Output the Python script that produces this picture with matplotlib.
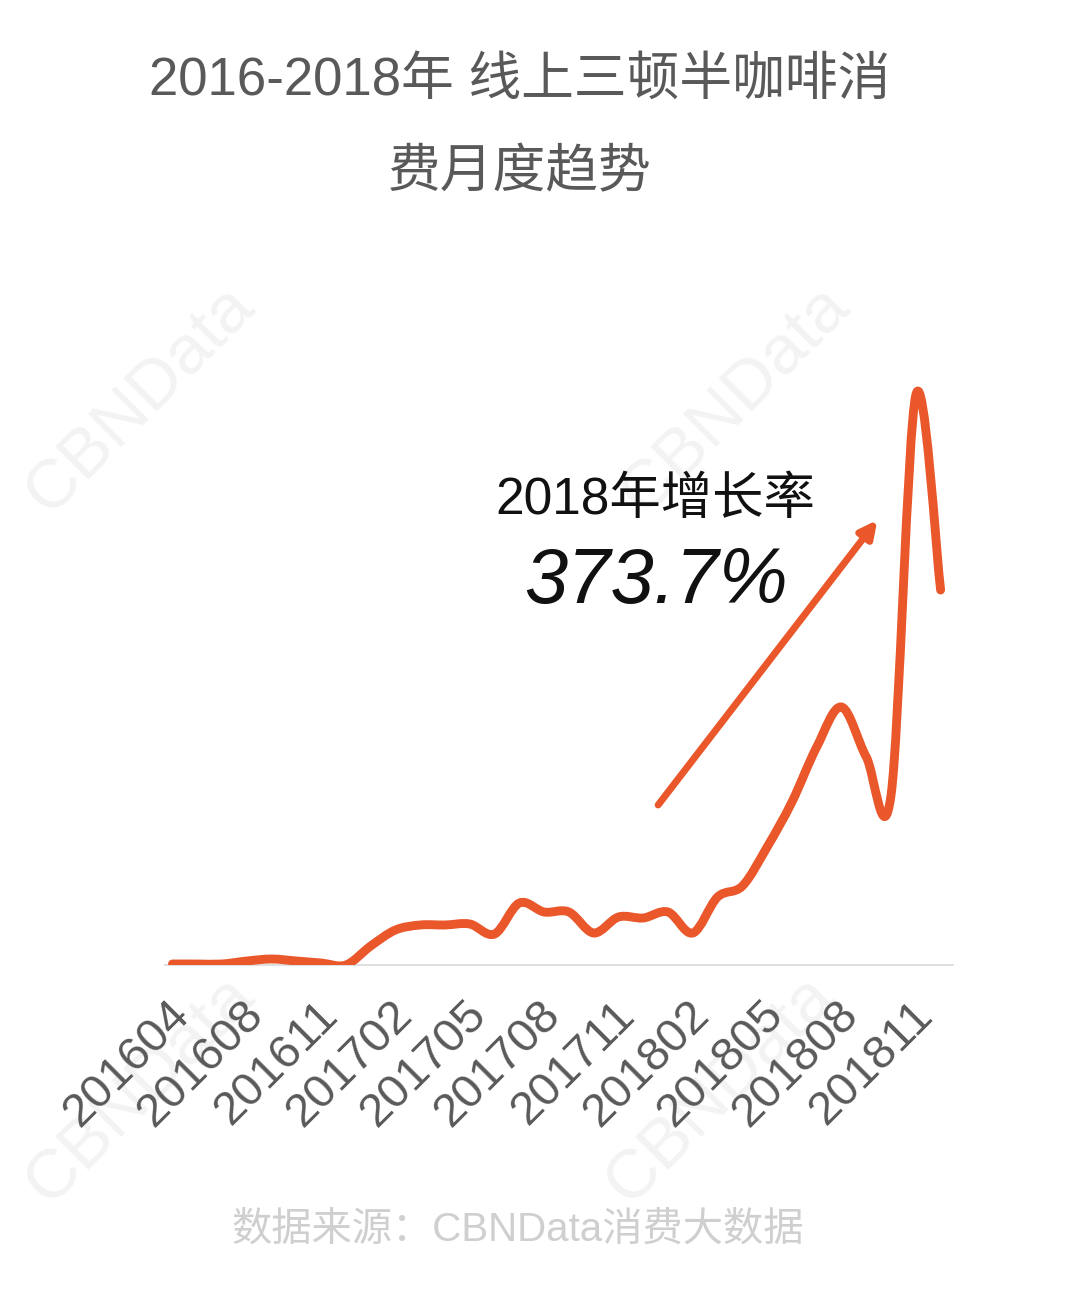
import numpy as np
import matplotlib.pyplot as plt
from matplotlib.path import Path
from matplotlib.patches import PathPatch
import matplotlib.transforms as mtransforms

plt.rcParams['font.family'] = ['Liberation Sans', 'Noto Sans CJK SC', 'DejaVu Sans']

# monthly consumption index, one month missing in the source
months = ['201604', '201606', '201607', '201608', '201609', '201610', '201611',
          '201612', '201701', '201702', '201703', '201704', '201705', '201706',
          '201707', '201708', '201709', '201710', '201711', '201712', '201801',
          '201802', '201803', '201804', '201805', '201806', '201807', '201808',
          '201809', '201810', '201811', '201812']
values = [1, 1, 1, 4, 6, 4, 2, 0, 19, 35, 40, 40, 41, 31, 62, 53,
          53, 32, 48, 47, 53, 32, 68, 79, 118, 163, 218, 258, 208, 170, 570, 375]
label_every = 3

line_color = '#E9572B'
text_gray = '#595959'

fig = plt.figure(figsize=(10.8, 13.04), dpi=100)

# background layer for the faint watermarks
bg = fig.add_axes([0, 0, 1, 1], zorder=-1)
bg.set_xlim(0, 1080)
bg.set_ylim(1304, 0)
bg.axis('off')
for wx, wy in [(140, 400), (735, 400), (140, 1090), (720, 1090)]:
    bg.text(wx, wy, 'CBNData', fontsize=50, rotation=45,
            color='#f3f3f3', ha='center', va='center')

ax = fig.add_axes([165 / 1080, 1 - 965 / 1304, (953 - 165) / 1080, 600 / 1304])
ax.patch.set_alpha(0)

# smooth line like the office chart: catmull-rom turned into bezier segments
x = np.arange(len(values), dtype=float)
y = np.array(values, dtype=float)
pts = np.column_stack([x, y])
verts = [pts[0]]
codes = [Path.MOVETO]
for i in range(len(pts) - 1):
    p0 = pts[i - 1] if i > 0 else pts[i]
    p1 = pts[i]
    p2 = pts[i + 1]
    p3 = pts[i + 2] if i + 2 < len(pts) else pts[i + 1]
    verts += [p1 + (p2 - p0) / 6, p2 - (p3 - p1) / 6, p2]
    codes += [Path.CURVE4] * 3
ax.add_patch(PathPatch(Path(verts, codes), facecolor='none', edgecolor=line_color,
                       lw=6.4, capstyle='round', joinstyle='round', zorder=3))

ax.set_xlim(-0.3, 31.5)
ax.set_ylim(0, 600)
for s in ['top', 'right', 'left']:
    ax.spines[s].set_visible(False)
ax.spines['bottom'].set_color('#d9d9d9')
ax.spines['bottom'].set_linewidth(1.2)
ax.set_yticks([])
ticks = list(range(0, len(months), label_every))
ax.set_xticks(ticks)
ax.set_xticklabels([months[i] for i in ticks], rotation=45, ha='right', va='center',
                   rotation_mode='anchor', fontsize=34, color=text_gray)
ax.tick_params(axis='x', length=0, pad=31)
offset = mtransforms.ScaledTranslation(10 / 100, 0, fig.dpi_scale_trans)
for lab in ax.get_xticklabels():
    lab.set_transform(lab.get_transform() + offset)

# growth arrow and note
ax.annotate('', xy=(28.45, 445), xytext=(19.6, 160),
            arrowprops=dict(arrowstyle='-|>,head_length=1.0,head_width=0.5',
                            color=line_color, lw=5, shrinkA=0, shrinkB=0))
ax.text(19.5, 465, '2018年增长率', fontsize=37, color='#111111', ha='center', va='center')
ax.text(19.5, 383, '373.7%', fontsize=56, style='italic', color='#111111',
        ha='center', va='center')

fig.text(520 / 1080, 1 - 81 / 1304, '2016-2018年 线上三顿半咖啡消', fontsize=38,
         color=text_gray, ha='center', va='center')
fig.text(520 / 1080, 1 - 173 / 1304, '费月度趋势', fontsize=38,
         color=text_gray, ha='center', va='center')
fig.text(518 / 1080, 1 - 1230 / 1304, '数据来源：CBNData消费大数据', fontsize=29,
         color='#cfcfcf', ha='center', va='center')

fig.savefig('out.png', dpi=100, facecolor='white')
